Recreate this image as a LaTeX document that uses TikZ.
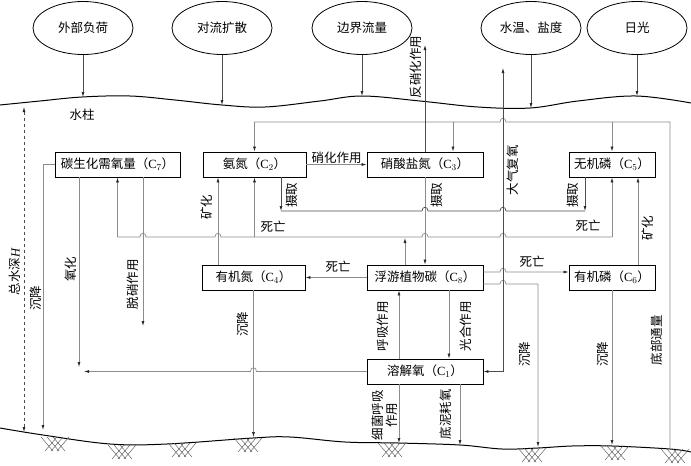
\documentclass[tikz,border=0pt]{standalone}
\usepackage{fontspec}
\setmainfont{Liberation Serif}
\newfontfamily\cjk{Noto Sans CJK SC}
\usetikzlibrary{shapes.geometric,arrows.meta,calc}
\newcommand{\cidx}[1]{{\rmfamily C}$_{#1}$}
\begin{document}
\begin{tikzpicture}[x=1pt,y=-1pt,
  txt/.style={font=\cjk\fontsize{12.5}{14}\selectfont, inner sep=1pt},
  vtxt/.style={txt, rotate=90},
  box/.style={draw=black, line width=0.9pt, rectangle, minimum height=25pt, inner sep=0pt, font=\cjk\fontsize{12.5}{14}\selectfont},
  ell/.style={draw=black, line width=0.8pt, ellipse, minimum width=100pt, minimum height=53pt, inner sep=0pt, font=\cjk\fontsize{12.5}{14}\selectfont},
  con/.style={draw=black!45, line width=0.7pt},
  dk/.style={draw=black!70, line width=0.7pt},
  tip/.style={-{Latex[length=5pt,width=3pt,color=black!85]}},
  tips/.style={{Latex[length=5pt,width=3pt,color=black!85]}-{Latex[length=5pt,width=3pt,color=black!85]}},
  hatch/.style={draw=black!65, line width=0.45pt},
  jr/.style 2 args={insert path={-- ({#1-3},#2) .. controls ({#1-3},{#2-5}) and ({#1+3},{#2-5}) .. ({#1+3},#2)}},
  jl/.style 2 args={insert path={-- ({#1+3},#2) .. controls ({#1+3},{#2-5}) and ({#1-3},{#2-5}) .. ({#1-3},#2)}}
]
\useasboundingbox (0,0) rectangle (691,466);

% water surface
\draw[line width=1pt] plot[smooth, tension=0.6] coordinates {(0,105) (40,101) (82,97) (130,96) (175,100) (222,105) (265,107) (320,101) (362,96) (420,101) (478,107) (530,108) (578,101) (636,96) (691,103)};
% sediment surface
\draw[line width=1pt] plot[smooth, tension=0.6] coordinates {(0,428) (43,435) (110,444) (167,444) (253,438) (290,437) (345,442) (398,443) (460,445) (502,449) (538,448) (572,446) (612,446) (670,449) (691,452)};
\foreach \hx/\hy in {55/437, 122/445, 182/443, 248/438, 392/443, 532/448, 615/446, 675/449}{
  \foreach \i in {-1,0,1}{
    \draw[hatch] ({\hx+6*\i-8},\hy) -- ++(12,14);
    \draw[hatch] ({\hx+6*\i+8},\hy) -- ++(-12,14);
  }
}

% ellipses
\node[ell] (e1) at (83,28) {外部负荷};
\node[ell] (e2) at (222,28) {对流扩散};
\node[ell] (e3) at (362,28) {边界流量};
\node[ell] (e4) at (531,28) {水温、盐度};
\node[ell] (e5) at (637,28) {日光};
\coordinate (s1) at (82,97);
\coordinate (s2) at (222,105);
\coordinate (s3) at (362,96);
\coordinate (s4) at (531,108);
\coordinate (s5) at (637,96);
\draw[dk,tip] (e1.south) -- (e1.south |- s1);
\draw[dk,tip] (e2.south) -- (e2.south |- s2);
\draw[dk,tip] (e3.south) -- (e3.south |- s3);
\draw[dk,tip] (e4.south) -- (e4.south |- s4);
\draw[dk,tip] (e5.south) -- (e5.south |- s5);

\node[txt] (wc) at (82,115) {水柱};

% boxes
\node[box, minimum width=125pt] (c7) at (117.5,164.5) {碳生化需氧量（\cidx{7}）};
\node[box, minimum width=103pt] (c2) at (254.5,164.5) {氨氮（\cidx{2}）};
\node[box, minimum width=116pt] (c3) at (425,164.5) {硝酸盐氮（\cidx{3}）};
\node[box, minimum width=86pt] (c5) at (612,164.5) {无机磷（\cidx{5}）};
\node[box, minimum width=103pt] (c4) at (253.5,277.5) {有机氮（\cidx{4}）};
\node[box, minimum width=116pt] (c8) at (425,277.5) {浮游植物碳（\cidx{8}）};
\node[box, minimum width=86pt] (c6) at (612,277.5) {有机磷（\cidx{6}）};
\node[box, minimum width=116pt] (c1) at (425,371.5) {溶解氧（\cidx{1}）};

% bottom flux loop
\coordinate (bfb) at (670,449);
\coordinate (bft) at (670,122);
\draw[con,tip] (bfb) -- (bft) [jl={503}{122}] -- (c2.north |- bft) -- (c2.north);
\coordinate (c3in) at ([xshift=28pt]c3.north);
\draw[con,tip] (c3in |- bft) -- (c3in);
\draw[con,tip] (c5.north |- bft) -- (c5.north);
\node[vtxt] (lbf) at (657,340) {底部通量};

% denitrification up
\coordinate (dn) at (425,45);
\draw[dk,tip] (c3.north) -- (dn);
\node[vtxt] (ldn) at (416,67) {反硝化作用};

% nitrification
\draw[con,tip] (c2.east) -- (c3.west) node[midway, above, txt] (lni) {硝化作用};

% uptake
\draw[con,tip] (c3.south) -- (c8.north);
\node[vtxt] (lu3) at (437,195) {摄取};
\coordinate (uy) at (0,211);
\coordinate (u1) at ([xshift=26.5pt]c2.south);
\coordinate (u2) at ([xshift=-27pt]c5.south);
\draw[dk,tip] (u1) -- (u1 |- uy);
\draw[dk,tip] (u2) -- (u2 |- uy);
\draw[dk] (u1 |- uy) [jr={425}{211}] [jr={503}{211}] -- (u2 |- uy);
\node[vtxt] (lu2) at (292,195) {摄取};
\node[vtxt] (lu5) at (573,195) {摄取};

% death network
\coordinate (dy) at (0,237);
\draw[con] (c7.south |- dy) [jr={143}{237}] [jr={218}{237}] [jr={425}{237}] [jr={503}{237}] -- (c5.south |- dy);
\draw[con,tip] (c7.south |- dy) -- (c7.south);
\draw[con,tip] (c2.south |- dy) -- (c2.south);
\draw[con,tip] (c5.south |- dy) -- (c5.south);
\coordinate (d8) at ([xshift=-20pt]c8.north);
\draw[con,tip] (d8) -- ([yshift=-1pt]d8 |- dy);
\node[txt] (ld2) at (273,227) {死亡};
\node[txt] (ld5) at (588,226) {死亡};

% mineralization
\coordinate (m4) at ([xshift=-35.5pt]c4.north);
\draw[con,tip] (m4) -- (m4 |- c2.south);
\node[vtxt] (lm4) at (207,207) {矿化};
\coordinate (m6) at ([xshift=26pt]c6.north);
\draw[con,tip] (m6) -- (m6 |- c5.south);
\node[vtxt] (lm6) at (648,228) {矿化};

% death C8 -> C4, C6
\draw[con,tip] (c8.west) -- (c4.east);
\node[txt] (ld4) at (338,267) {死亡};
\coordinate (d86) at ([yshift=5.5pt]c8.east);
\draw[con,tip] (d86) [jr={503}{272}] -- (d86 -| c6.west);
\node[txt] (ld6) at (532,262) {死亡};

% settling
\coordinate (s8) at ([yshift=-6.5pt]c8.east);
\coordinate (s8b) at (538,447);
\draw[con,tip] (s8) [jr={503}{284}] -- (s8 -| s8b) -- (s8b);
\node[vtxt] (ls8) at (525,354) {沉降};
\coordinate (s6b) at (612,445);
\draw[con,tip] (c6.south) -- (s6b);
\node[vtxt] (ls6) at (603,354) {沉降};
\coordinate (s4b) at (253.5,437);
\draw[con,tip] (c4.south) -- (s4b);
\node[vtxt] (ls4) at (243,324) {沉降};
\coordinate (s7c) at (43,164.5);
\coordinate (s7b) at (43,430);
\draw[con,tip] (c7.west) -- (s7c) -- (s7b);
\node[vtxt] (ls7) at (36,298) {沉降};

% atmospheric reaeration
\coordinate (ao) at (503,68);
\coordinate (aoc) at (503,371.5);
\draw[dk,tips] (ao) -- (aoc) -- (c1.east);
\node[vtxt] (lao) at (513,170) {大气复氧};

% respiration / photosynthesis
\coordinate (r1) at ([xshift=-26pt]c1.north);
\draw[con,tip] (r1) -- (r1 |- c8.south);
\node[vtxt] (lr1) at (383,326) {呼吸作用};
\coordinate (p1) at ([xshift=24pt]c8.south);
\draw[con,tip] (p1) -- (p1 |- c1.north);
\node[vtxt] (lp1) at (466,326) {光合作用};

% bacterial respiration / SOD
\coordinate (b1) at (399,443);
\draw[con,tip] (r1 |- c1.south) -- (b1);
\node[vtxt, align=center] (lb1) at (385,415) {细菌呼吸\\作用};
\coordinate (sd) at ([xshift=35pt]c1.south);
\coordinate (sdb) at (460,445);
\draw[con,tip] (sd) -- (sdb);
\node[vtxt] (lsd) at (446,414) {底泥耗氧};

% oxidation
\coordinate (ox) at ([xshift=-38.5pt]c7.south);
\coordinate (oxv) at (79,367);
\coordinate (oxe) at (84,371.5);
\draw[con,tip] (ox) -- (oxv);
\draw[con,tip] (c1.west) [jl={253.5}{371.5}] -- (oxe);
\node[vtxt] (lox) at (71,269) {氧化};

% de-nitrification of CBOD
\coordinate (tx) at ([xshift=25.5pt]c7.south);
\coordinate (txe) at (143,326);
\draw[con,tip] (tx) -- (txe);
\node[vtxt] (ltx) at (133,284) {脱硝作用};

% total depth
\coordinate (ht) at (24,107);
\coordinate (hb) at (24,432);
\draw[dk,dashed,tips] (ht) -- (hb);
\node[vtxt] (lh) at (15,272) {总水深{\rmfamily\itshape H}};

\end{tikzpicture}
\end{document}
